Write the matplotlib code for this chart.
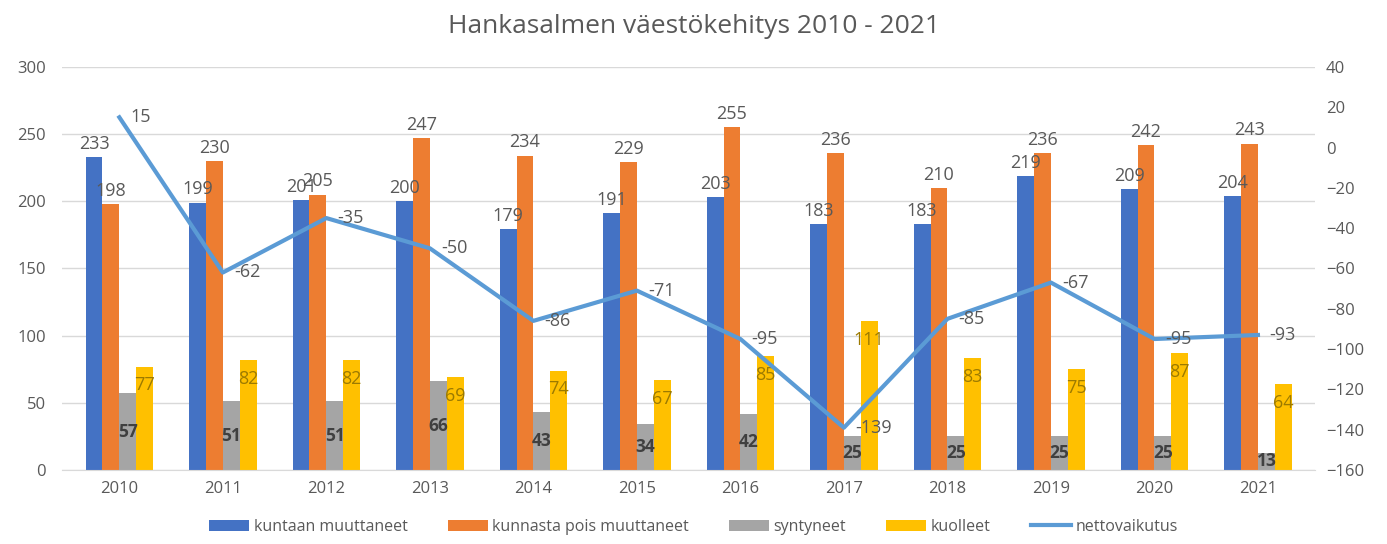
import numpy as np
import matplotlib.pyplot as plt

plt.rcParams['font.family'] = ['Open Sans', 'DejaVu Sans']

years = ['2010', '2011', '2012', '2013', '2014', '2015',
         '2016', '2017', '2018', '2019', '2020', '2021']
kuntaan = [233, 199, 201, 200, 179, 191, 203, 183, 183, 219, 209, 204]
kunnasta = [198, 230, 205, 247, 234, 229, 255, 236, 210, 236, 242, 243]
syntyneet = [57, 51, 51, 66, 43, 34, 42, 25, 25, 25, 25, 13]
kuolleet = [77, 82, 82, 69, 74, 67, 85, 111, 83, 75, 87, 64]
netto = [15, -62, -35, -50, -86, -71, -95, -139, -85, -67, -95, -93]

c_blue = '#4472C4'
c_orange = '#ED7D31'
c_gray = '#A5A5A5'
c_yellow = '#FFC000'
c_line = '#5B9BD5'
txt = '#595959'

fig = plt.figure(figsize=(13.87, 5.44), dpi=100)
ax = fig.add_axes([0.045, 0.136, 0.903, 0.741])
ax2 = ax.twinx()

x = np.arange(len(years))
w = 0.163
offs = [-1.5 * w, -0.5 * w, 0.5 * w, 1.5 * w]

b1 = ax.bar(x + offs[0], kuntaan, w, color=c_blue, label='kuntaan muuttaneet')
b2 = ax.bar(x + offs[1], kunnasta, w, color=c_orange, label='kunnasta pois muuttaneet')
b3 = ax.bar(x + offs[2], syntyneet, w, color=c_gray, label='syntyneet')
b4 = ax.bar(x + offs[3], kuolleet, w, color=c_yellow, label='kuolleet')

ax.bar_label(b1, padding=3, color=txt, fontsize=13)
ax.bar_label(b2, padding=3, color=txt, fontsize=13)
ax.bar_label(b3, label_type='center', color='#404040', fontsize=12.5, fontweight='bold')
for i, v in enumerate(kuolleet):
    ax.annotate(str(v), (x[i] + offs[3], v), xytext=(0, -7), textcoords='offset points',
                ha='center', va='top', color='#9C7A00', fontsize=13)

ln, = ax2.plot(x, netto, color=c_line, lw=3, label='nettovaikutus')
for i, v in enumerate(netto):
    ax2.annotate(str(v), (x[i], v), xytext=(8, 0), textcoords='offset points',
                 ha='left', va='center', color=txt, fontsize=13)

ax.set_ylim(0, 300)
ax.set_yticks(range(0, 301, 50))
ax2.set_ylim(-160, 40)
ax2.set_yticks(range(-160, 41, 20))
ax.set_xlim(-0.55, 11.55)
ax.set_xticks(x)
ax.set_xticklabels(years)

ax.grid(axis='y', color='#D9D9D9', lw=1)
ax.set_axisbelow(True)
for a in (ax, ax2):
    for s in a.spines.values():
        s.set_visible(False)
    a.tick_params(length=0, colors=txt, labelsize=12)
ax.spines['bottom'].set_visible(True)
ax.spines['bottom'].set_color('#D9D9D9')
ax.tick_params(axis='y', pad=12)
ax2.tick_params(axis='y', pad=8)
ax.tick_params(axis='x', pad=8)

fig.suptitle('Hankasalmen väestökehitys 2010 - 2021', y=0.975, fontsize=19, color=txt)

handles = [b1, b2, b3, b4, ln]
fig.legend(handles, [h.get_label() for h in handles], loc='lower center',
           bbox_to_anchor=(0.5, -0.01), ncol=5, frameon=False, fontsize=11.5,
           labelcolor=txt, handlelength=2.5, handletextpad=0.3, columnspacing=2.5)

plt.savefig('out.png', dpi=100)
